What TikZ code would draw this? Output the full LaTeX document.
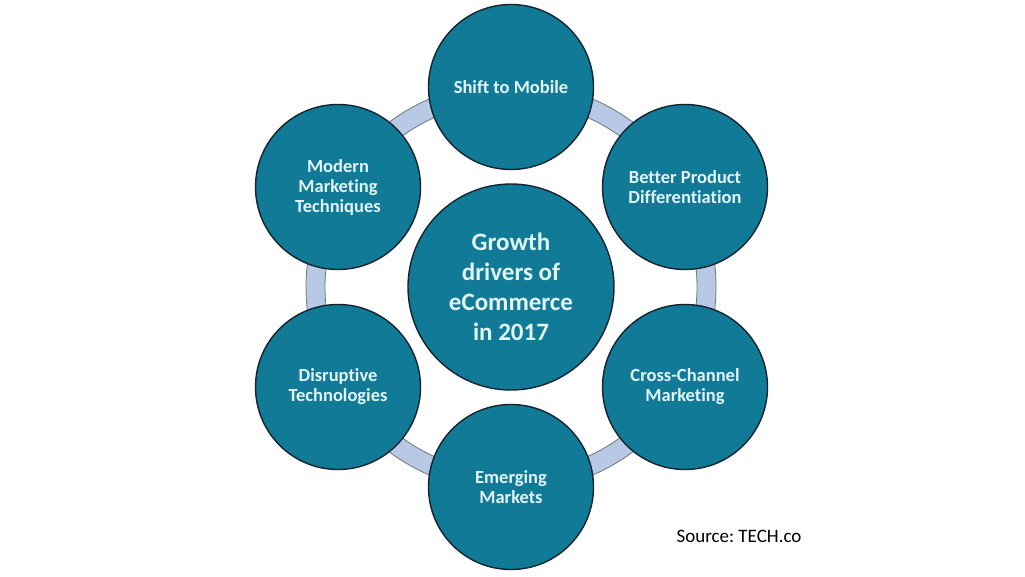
\documentclass[tikz,border=0pt]{standalone}
\usepackage{fontspec}
\setmainfont[Ligatures=NoCommon]{Carlito}
\definecolor{teal1}{RGB}{16,122,151}
\definecolor{ringblue}{RGB}{183,201,228}
\definecolor{ringline}{RGB}{110,118,130}
\definecolor{txt}{RGB}{226,244,248}
\definecolor{edge}{RGB}{20,36,48}
\begin{document}
\begin{tikzpicture}[x=1pt,y=-1pt,
  outer/.style={circle,fill=teal1,draw=edge,line width=1.4pt,minimum size=165pt,inner sep=0pt,
    text=txt,font=\bfseries\fontsize{18.5}{20}\selectfont,align=center},
  hub/.style={circle,fill=teal1,draw=edge,line width=1.4pt,minimum size=206pt,inner sep=0pt,
    text=txt,font=\bfseries\fontsize{25}{30}\selectfont,align=center},
  src/.style={font=\fontsize{19}{22}\selectfont,text=black}]
\useasboundingbox[fill=white] (0,0) rectangle (1025,577);
\coordinate (c) at (511,287);
\draw[fill=ringblue,draw=ringline,line width=0.8pt,even odd rule]
  (c) circle[radius=205] (c) circle[radius=186];
\node[hub] (hub) at (c) {Growth\\drivers of\\eCommerce\\in 2017};
\node[outer] (top) at (511,87) {Shift to Mobile};
\node[outer] (ur) at (685,187) {Better Product\\Differentiation};
\node[outer] (lr) at (685,387) {Cross-Channel\\Marketing};
\node[outer] (bot) at (511,487) {Emerging\\Markets};
\node[outer] (ll) at (338,387) {Disruptive\\Technologies};
\node[outer] (ul) at (338,187) {Modern\\Marketing\\Techniques};
\node[src,anchor=west] (source) at (673,536) {Source:\ TECH.co};
\end{tikzpicture}
\end{document}
